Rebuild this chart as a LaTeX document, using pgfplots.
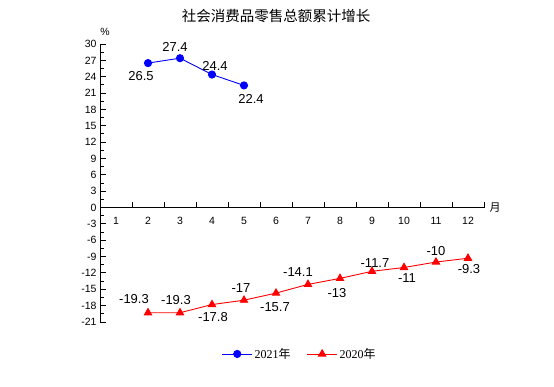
\documentclass[border=0pt]{standalone}
\usepackage{fontspec}
\setmainfont{Liberation Sans}
\newfontfamily\cjk{Noto Sans CJK SC}
\newfontfamily\tms{Liberation Serif}
\usepackage{pgfplots}
\usepackage{pgfplotstable}
\pgfplotsset{compat=1.18}

\pgfplotstableread{
x y dx dy
2 26.5 -7 -13
3 27.4 -5 11
4 24.4 3 9
5 22.4 7 -14
}\bluedata

\pgfplotstableread{
x y dx dy
2 -19.3 -14 14
3 -19.3 -4 13
4 -17.8 1 -12
5 -17 -3 12
6 -15.7 -1 -14
7 -14.1 -10 12
8 -13 -3 -15
9 -11.7 3 8
10 -11 3 -11
11 -10 0 11
12 -9.3 1 -11
}\reddata

\begin{document}
\begin{tikzpicture}
\path[use as bounding box] (0pt,0pt) rectangle (554pt,-387pt);
\node[font=\cjk\fontsize{14.5}{15}\selectfont] at (276pt,-16pt) {社会消费品零售总额累计增长};
\node[font=\fontsize{10.5}{10}\selectfont] at (105pt,-32pt) {\%};
\node[font=\cjk\fontsize{11}{11}\selectfont] at (495pt,-208pt) {月};
\begin{axis}[
  at={(100pt,-322pt)}, anchor=south west,
  scale only axis, width=384pt, height=278pt,
  xmin=0.5, xmax=12.5, ymin=-21, ymax=30,
  axis x line=middle, axis y line=left,
  axis line style={-, line width=0.9pt, black},
  xtick={1,2,...,12},
  xticklabel style={yshift=-3pt},
  major x tick style={draw=none},
  ytick={-21,-18,...,30},
  minor y tick num=1,
  ytick align=inside,
  major tick length=5.5pt, minor tick length=3.5pt,
  every tick/.append style={black, line width=1pt},
  tick label style={font=\fontsize{10.5}{10}\selectfont},
  /pgf/number format/assume math mode=true,
  clip=false,
  nodes near coords,
  point meta=explicit symbolic,
  visualization depends on={\thisrow{dx} \as \dx},
  visualization depends on={\thisrow{dy} \as \dy},
  every node near coord/.style={anchor=center, xshift=\dx pt, yshift=\dy pt, font=\fontsize{13}{13}\selectfont, text=black},
  legend style={at={(0.52,-0.115)}, anchor=center, draw=none, fill=none,
    legend columns=2, font=\tms\fontsize{12}{12}\selectfont,
    /tikz/every even column/.append style={column sep=14pt}},
  legend cell align=left,
  legend image code/.code={\draw[#1,mark repeat=2,mark phase=2] plot coordinates {(0pt,0pt) (15pt,0pt) (30pt,0pt)};},
]
\pgfplotsinvokeforeach{1.5,2.5,3.5,4.5,5.5,6.5,7.5,8.5,9.5,10.5,11.5,12.5}{
  \draw[black, line width=1pt] (axis cs:#1,0) -- (axis cs:#1,1);
}
\addplot[blue, line width=0.9pt, mark=*, mark size=3.6pt, mark options={fill=blue, draw=blue}]
  table[x=x, y=y, meta=y] {\bluedata};
\addlegendentry{2021{\cjk 年}}
\addplot[red, line width=0.9pt, mark=triangle*, mark size=4.2pt, mark options={fill=red, draw=red}]
  table[x=x, y=y, meta=y] {\reddata};
\addlegendentry{2020{\cjk 年}}
\end{axis}
\end{tikzpicture}
\end{document}
